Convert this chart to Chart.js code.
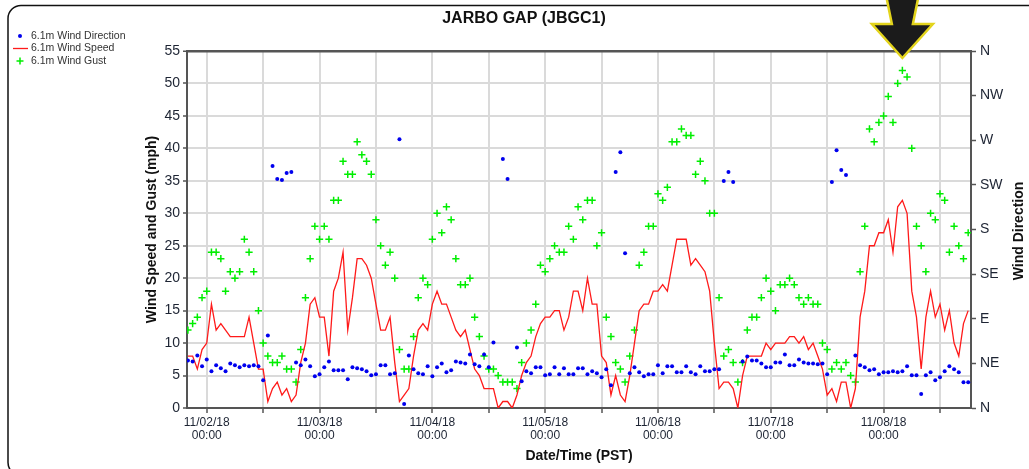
<!DOCTYPE html>
<html>
<head>
<meta charset="utf-8">
<script src="https://cdn.jsdelivr.net/npm/chart.js@4.4.0/dist/chart.umd.min.js"></script>
<style>
  html, body { margin: 0; padding: 0; background: #fff; }
</style>
</head>
<body>
<canvas id="windChart" width="1029" height="469"></canvas>
<script>
// one reading per hour, hours counted from 11/02/18 00:00 PST
const firstHour = -4;

const windSpeed = [8, 8, 6, 9,
  10, 16, 12, 13, 12, 11, 11, 11, 11, 14,
  10, 6, 6, 1, 3, 4, 2, 3, 1, 2,
  7, 10, 16, 17, 14, 14, 8, 18, 20, 24,
  12, 17, 23, 23, 22, 20, 16, 12, 12, 14,
  7, 1, 2, 3, 8, 12, 13, 12, 16, 18,
  16, 16, 14, 12, 11, 12, 9, 6, 5, 3,
  3, 3, 0, 1, 1, 0, 2, 5, 7, 8,
  11, 13, 14, 14, 15, 15, 12, 14, 18, 18,
  15, 20, 16, 16, 8, 7, 2, 5, 2, 1,
  5, 10, 15, 16, 16, 18, 18, 19, 18, 22,
  26, 26, 26, 22, 23, 22, 21, 18, 10, 3,
  4, 4, 3, 0, 5, 8, 8, 8, 8, 10,
  9, 10, 10, 10, 11, 11, 10, 11, 9, 10,
  8, 6, 2, 3, 1, 4, 4, 0, 3, 14,
  18, 25, 25, 27, 27, 29, 24, 31, 32, 30,
  18, 14, 6, 14, 18, 14, 16, 12, 15, 10,
  8, 13, 15];

const windGust = [12, 13, 14, 17,
  18, 24, 24, 23, 18, 21, 20, 21, 26, 24,
  21, 15, 10, 8, 7, 7, 8, 6, 6, 4,
  9, 17, 23, 28, 26, 28, 26, 32, 32, 38,
  36, 36, 41, 39, 38, 36, 29, 25, 22, 24,
  20, 9, 6, 6, 11, 17, 20, 19, 26, 30,
  27, 31, 29, 23, 19, 19, 20, 14, 11, 8,
  6, 6, 5, 4, 4, 4, 3, 7, 10, 12,
  16, 22, 21, 23, 25, 24, 24, 28, 26, 31,
  29, 32, 32, 25, 27, 14, 11, 7, 6, 4,
  8, 12, 22, 24, 28, 28, 33, 32, 34, 41,
  41, 43, 42, 42, 36, 38, 35, 30, 30, 17,
  8, 9, 7, 4, 7, 12, 14, 14, 17, 20,
  18, 15, 19, 19, 20, 19, 17, 16, 17, 16,
  16, 10, 9, 6, 7, 6, 7, 5, 4, 21,
  28, 43, 41, 44, 45, 48, 44, 50, 52, 51,
  40, 28, 25, 21, 30, 29, 33, 32, 24, 28,
  25, 23, 27];

// degrees, null when calm
const windDir = [48, 47, 53, 42,
  49, 37, 43, 40, 37, 45, 43, 41, 43, 42,
  43, 42, 28, 73, 244, 231, 230, 237, 238, 46,
  43, 49, 42, 32, 34, 41, 47, 38, 38, 38,
  29, 41, 40, 39, 37, 33, 34, 43, 43, 34,
  35, 271, 4, 53, 39, 35, 34, 42, 32, 41,
  45, 36, 38, 47, 46, 45, 54, 44, 42, 54,
  41, 66, null, 251, 231, null, 61, 27, 37, 35,
  41, 41, 33, 34, 41, 34, 40, 34, 34, 40,
  40, 34, 37, 35, 31, 39, 23, 238, 258, 156,
  35, 41, 36, 32, 34, 34, 43, 35, 42, 42,
  36, 36, 42, 36, 34, 42, 37, 37, 39, 39,
  229, 238, 228, null, 47, 52, 48, 48, 45, 41,
  41, 46, 46, 54, 43, 43, 49, 46, 45, 45,
  44, 45, 34, 228, 260, 240, 235, null, 53, 43,
  41, 38, 39, 34, 36, 36, 37, 36, 37, 42,
  33, 33, 14, 33, 36, 28, 31, 37, 42, 39,
  36, 26, 26];

const compassLabels = ['N', 'NE', 'E', 'SE', 'S', 'SW', 'W', 'NW', 'N'];
const hours = windSpeed.map((_, i) => firstHour + i);
const toPoints = arr => arr.map((v, i) => ({x: hours[i], y: v}));

const FONT = "'Liberation Sans', Arial, sans-serif";
const TICK_COLOR = '#1d2433';
const AXIS_COLOR = '#555';
const GRID_COLOR = '#dadada';
Chart.defaults.font.family = FONT;

// frame, legend, right axis title and the peak-gust arrow
const decorPlugin = {
  id: 'decor',
  afterDraw(chart) {
    const ctx = chart.ctx;
    ctx.save();

    // rounded outer frame
    const fx = 8, fy = 5.5, fw = 1040, fh = 470, r = 13;
    ctx.beginPath();
    ctx.moveTo(fx + r, fy);
    ctx.lineTo(fx + fw - r, fy);
    ctx.arcTo(fx + fw, fy, fx + fw, fy + r, r);
    ctx.lineTo(fx + fw, fy + fh - r);
    ctx.arcTo(fx + fw, fy + fh, fx + fw - r, fy + fh, r);
    ctx.lineTo(fx + r, fy + fh);
    ctx.arcTo(fx, fy + fh, fx, fy + fh - r, r);
    ctx.lineTo(fx, fy + r);
    ctx.arcTo(fx, fy, fx + r, fy, r);
    ctx.strokeStyle = '#111';
    ctx.lineWidth = 1.5;
    ctx.stroke();

    // legend
    const ds = chart.data.datasets;
    const rows = [36, 48.5, 61];
    ctx.font = '10.5px ' + FONT;
    ctx.textBaseline = 'middle';
    ctx.textAlign = 'left';
    ds.forEach((d, i) => {
      const y = rows[i];
      if (d.showLine) {
        ctx.strokeStyle = d.borderColor;
        ctx.lineWidth = 1.3;
        ctx.beginPath(); ctx.moveTo(13, y); ctx.lineTo(28, y); ctx.stroke();
      } else if (d.pointStyle === 'cross') {
        ctx.strokeStyle = d.borderColor;
        ctx.lineWidth = 1.5;
        ctx.beginPath();
        ctx.moveTo(16.5, y); ctx.lineTo(23.5, y);
        ctx.moveTo(20, y - 3.5); ctx.lineTo(20, y + 3.5);
        ctx.stroke();
      } else {
        ctx.fillStyle = d.backgroundColor;
        ctx.beginPath(); ctx.arc(20, y, 2, 0, Math.PI * 2); ctx.fill();
      }
      ctx.fillStyle = '#333';
      ctx.fillText(d.label, 31, y);
    });

    // right axis title, reading upward
    ctx.save();
    ctx.translate(1019, 231);
    ctx.rotate(-Math.PI / 2);
    ctx.font = 'bold 14px ' + FONT;
    ctx.textAlign = 'center';
    ctx.fillStyle = '#111';
    ctx.fillText('Wind Direction', 0, 0);
    ctx.restore();

    // arrow over the hour of the highest gust
    const peak = windGust.indexOf(Math.max(...windGust));
    const cx = chart.scales.x.getPixelForValue(hours[peak]);
    const pts = [[-16, -3], [16, -3], [10.5, 24], [30.5, 24], [0, 58], [-30.5, 24], [-10.5, 24]];
    ctx.beginPath();
    pts.forEach(([dx, dy], i) => i ? ctx.lineTo(cx + dx, dy) : ctx.moveTo(cx + dx, dy));
    ctx.closePath();
    ctx.fillStyle = '#1b1b1b';
    ctx.fill();
    ctx.strokeStyle = '#e3d41c';
    ctx.lineWidth = 2.5;
    ctx.lineJoin = 'miter';
    ctx.stroke();

    ctx.restore();
  }
};

const windChart = new Chart(document.getElementById('windChart'), {
  type: 'scatter',
  data: {
    datasets: [{
      label: '6.1m Wind Direction',
      data: toPoints(windDir),
      yAxisID: 'y2',
      showLine: false,
      pointStyle: 'circle',
      pointRadius: 2,
      backgroundColor: '#0000ee',
      borderColor: '#0000ee',
      borderWidth: 0
    }, {
      label: '6.1m Wind Speed',
      data: toPoints(windSpeed),
      yAxisID: 'y',
      showLine: true,
      borderColor: '#ff1a1a',
      borderWidth: 1.3,
      pointRadius: 0,
      tension: 0
    }, {
      label: '6.1m Wind Gust',
      data: toPoints(windGust),
      yAxisID: 'y',
      showLine: false,
      pointStyle: 'cross',
      pointRadius: 3.6,
      borderColor: '#00ee00',
      backgroundColor: '#00ee00',
      borderWidth: 1.5
    }]
  },
  options: {
    responsive: false,
    animation: false,
    layout: { padding: { left: 19, right: 0, top: 0, bottom: 0 } },
    plugins: {
      legend: { display: false },
      tooltip: { enabled: false },
      title: {
        display: true,
        text: 'JARBO GAP (JBGC1)',
        color: '#111',
        font: { size: 16, weight: 'bold' },
        padding: { top: 8.5, bottom: 23.3 }
      }
    },
    scales: {
      x: {
        type: 'linear',
        min: -4.2,
        max: 162.6,
        afterBuildTicks: s => {
          const t = [];
          for (let v = 0; v <= s.max; v += 12) t.push({value: v});
          s.ticks = t;
        },
        afterFit: s => { s.height = 61; },
        ticks: {
          autoSkip: false,
          maxRotation: 0,
          padding: 3,
          color: TICK_COLOR,
          font: { size: 12, lineHeight: 1.1 },
          callback: v => {
            if (v % 24 !== 0) return '';
            const day = 2 + v / 24;
            return ['11/' + String(day).padStart(2, '0') + '/18', '00:00'];
          }
        },
        grid: { color: GRID_COLOR, lineWidth: 2, tickColor: AXIS_COLOR, tickLength: 5, tickWidth: 1.5 },
        border: { color: AXIS_COLOR, width: 2 },
        title: {
          display: true,
          text: 'Date/Time (PST)',
          color: '#111',
          font: { size: 14, weight: 'bold' },
          padding: { top: 0, bottom: 4 }
        }
      },
      y: {
        position: 'left',
        min: 0,
        max: 55,
        afterFit: s => { s.width = 168; },
        ticks: { stepSize: 5, padding: 3, color: TICK_COLOR, font: { size: 14 } },
        grid: {
          color: c => (c.tick && c.tick.value === 55 ? AXIS_COLOR : GRID_COLOR),
          lineWidth: c => (c.tick && c.tick.value === 55 ? 2.5 : 2),
          tickColor: AXIS_COLOR,
          tickLength: 4,
          tickWidth: 1.5
        },
        border: { color: AXIS_COLOR, width: 2 },
        title: {
          display: true,
          text: 'Wind Speed and Gust (mph)',
          color: '#111',
          font: { size: 14, weight: 'bold' },
          padding: { top: 124.6, bottom: 0 }
        }
      },
      y2: {
        position: 'right',
        min: 0,
        max: 360,
        afterFit: s => { s.width = 58; },
        ticks: {
          stepSize: 45,
          padding: 4,
          color: TICK_COLOR,
          font: { size: 14 },
          callback: v => compassLabels[v / 45]
        },
        grid: { drawOnChartArea: false, tickColor: AXIS_COLOR, tickLength: 5, tickWidth: 1.5 },
        border: { color: AXIS_COLOR, width: 2 }
      }
    }
  },
  plugins: [decorPlugin]
});
</script>
</body>
</html>
